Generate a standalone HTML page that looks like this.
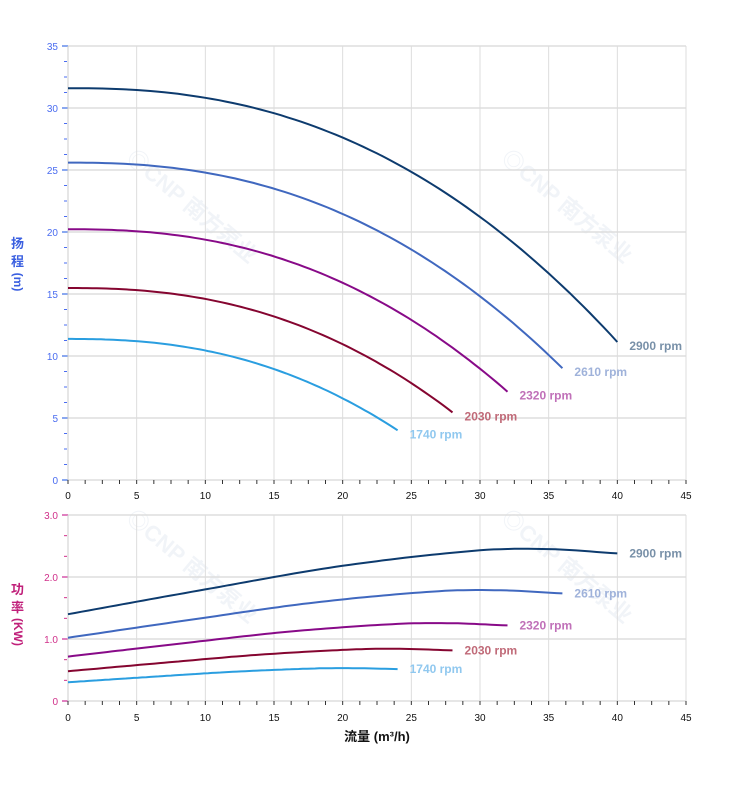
<!DOCTYPE html>
<html><head><meta charset="utf-8"><style>
body{margin:0;background:#fff;}
text{font-family:"Liberation Sans","Noto Sans CJK SC",sans-serif;}
</style></head><body>
<svg id="s" width="752" height="797" xmlns="http://www.w3.org/2000/svg">
<g id="g"></g>
<text x="11" y="248" font-size="13" font-weight="bold" fill="#3a5fe0">扬</text>
<text x="11" y="266" font-size="13" font-weight="bold" fill="#3a5fe0">程</text>
<text x="18" y="286" font-size="12" font-weight="bold" fill="#3a5fe0" text-anchor="middle" transform="rotate(90 18 282)">(m)</text>
<text x="11" y="594" font-size="13" font-weight="bold" fill="#c0207a">功</text>
<text x="11" y="612" font-size="13" font-weight="bold" fill="#c0207a">率</text>
<text x="18" y="636" font-size="12" font-weight="bold" fill="#c0207a" text-anchor="middle" transform="rotate(90 18 632)">(KW)</text>
<text x="377" y="741" font-size="13" font-weight="bold" fill="#111" text-anchor="middle">流量 (m³/h)</text>
</svg>
<script>
const g=document.getElementById('g');let h='';
const X=q=>68+q*618/45, YT=v=>480-v*12.4, YB=p=>701-p*62;
[[125,160],[500,160],[125,520],[500,520]].forEach(([x,y])=>{h+=`<text x="${x}" y="${y}" font-size="22" font-weight="bold" fill="#f1f4f8" transform="rotate(40 ${x} ${y})">◎CNP 南方泵业</text>`;});
for(let i=0;i<=9;i++){const x=X(i*5);h+=`<line x1="${x}" y1="46" x2="${x}" y2="480" stroke="#ddd"/><line x1="${x}" y1="515" x2="${x}" y2="701" stroke="#ddd"/>`;}
for(let v=0;v<=35;v+=5){const y=YT(v);h+=`<line x1="68" y1="${y}" x2="686" y2="${y}" stroke="#ddd" stroke-width="1.5"/><line x1="62" y1="${y}" x2="68" y2="${y}" stroke="#8aa8f0" stroke-width="2"/><text x="58" y="${y+4}" font-size="10" fill="#4a6cf0" text-anchor="end">${v}</text>`;}
for(let v=1.25;v<35;v+=1.25){if(Math.abs(v/5-Math.round(v/5))<1e-6)continue;const y=YT(v);h+=`<line x1="64" y1="${y}" x2="67" y2="${y}" stroke="#4a6cf0"/>`;}
for(let p=0;p<=3;p++){const y=YB(p);h+=`<line x1="68" y1="${y}" x2="686" y2="${y}" stroke="#ddd" stroke-width="1.5"/><line x1="62" y1="${y}" x2="68" y2="${y}" stroke="#e080c0" stroke-width="2"/><text x="58" y="${y+4}" font-size="10" fill="#d0308a" text-anchor="end">${p?p.toFixed(1):0}</text>`;}
for(let p=1/3;p<3;p+=1/3){if(Math.abs(p-Math.round(p))<1e-6)continue;const y=YB(p);h+=`<line x1="64" y1="${y}" x2="67" y2="${y}" stroke="#d0308a"/>`;}
for(let q=0;q<=45.01;q+=1.25){const x=X(q);h+=`<line x1="${x}" y1="480" x2="${x}" y2="484" stroke="#333"/><line x1="${x}" y1="701" x2="${x}" y2="705" stroke="#333"/>`;}
for(let i=0;i<=9;i++){const x=X(i*5);h+=`<text x="${x}" y="499" font-size="10" fill="#111" text-anchor="middle">${i*5}</text><text x="${x}" y="721" font-size="10" fill="#111" text-anchor="middle">${i*5}</text>`;}
h+=`<line x1="68" y1="46" x2="68" y2="480" stroke="#ccc"/><line x1="68" y1="515" x2="68" y2="701" stroke="#ccc"/>`;
const H=q=>31.6-0.00339*Math.pow(q,2.36);
const pp=[[0,1.4],[10,1.8],[20,2.18],[30,2.43],[35,2.45],[40,2.38]];
function P(q){for(let i=0;i<pp.length-1;i++){if(q<=pp[i+1][0]){const a=pp[i],b=pp[i+1];const t=(q-a[0])/(b[0]-a[0]);const m0=i>0?(pp[i+1][1]-pp[i-1][1])/(pp[i+1][0]-pp[i-1][0]):(b[1]-a[1])/(b[0]-a[0]);const m1=i<pp.length-2?(pp[i+2][1]-a[1])/(pp[i+2][0]-a[0]):(b[1]-a[1])/(b[0]-a[0]);const d=b[0]-a[0];const t2=t*t,t3=t2*t;return (2*t3-3*t2+1)*a[1]+(t3-2*t2+t)*d*m0+(-2*t3+3*t2)*b[1]+(t3-t2)*d*m1;}}return pp[pp.length-1][1];}
const S=[[2900,'#0d3b6e','#7890a8'],[2610,'#4068bf','#9fb2da'],[2320,'#880a88','#c070b8'],[2030,'#850530','#c06a78'],[1740,'#2a9ee0','#90c8ef']];
S.forEach(([n,c,lc])=>{const r=n/2900,qm=40*r;let a='',b='';for(let k=0;k<=80;k++){const q=qm*k/80,q0=q/r;a+=(k?'L':'M')+X(q).toFixed(1)+','+YT(H(q0)*r*r).toFixed(1);b+=(k?'L':'M')+X(q).toFixed(1)+','+YB(P(q0)*r*r*r).toFixed(1);}
h+=`<path d="${a}" fill="none" stroke="${c}" stroke-width="2"/><path d="${b}" fill="none" stroke="${c}" stroke-width="2"/>`;
h+=`<text x="${X(qm)+12}" y="${YT(H(40)*r*r)+8}" font-size="12" font-weight="bold" fill="${lc}">${n} rpm</text>`;
h+=`<text x="${X(qm)+12}" y="${YB(P(40)*r*r*r)+4}" font-size="12" font-weight="bold" fill="${lc}">${n} rpm</text>`;});
g.innerHTML=h;
</script>
</body></html>
